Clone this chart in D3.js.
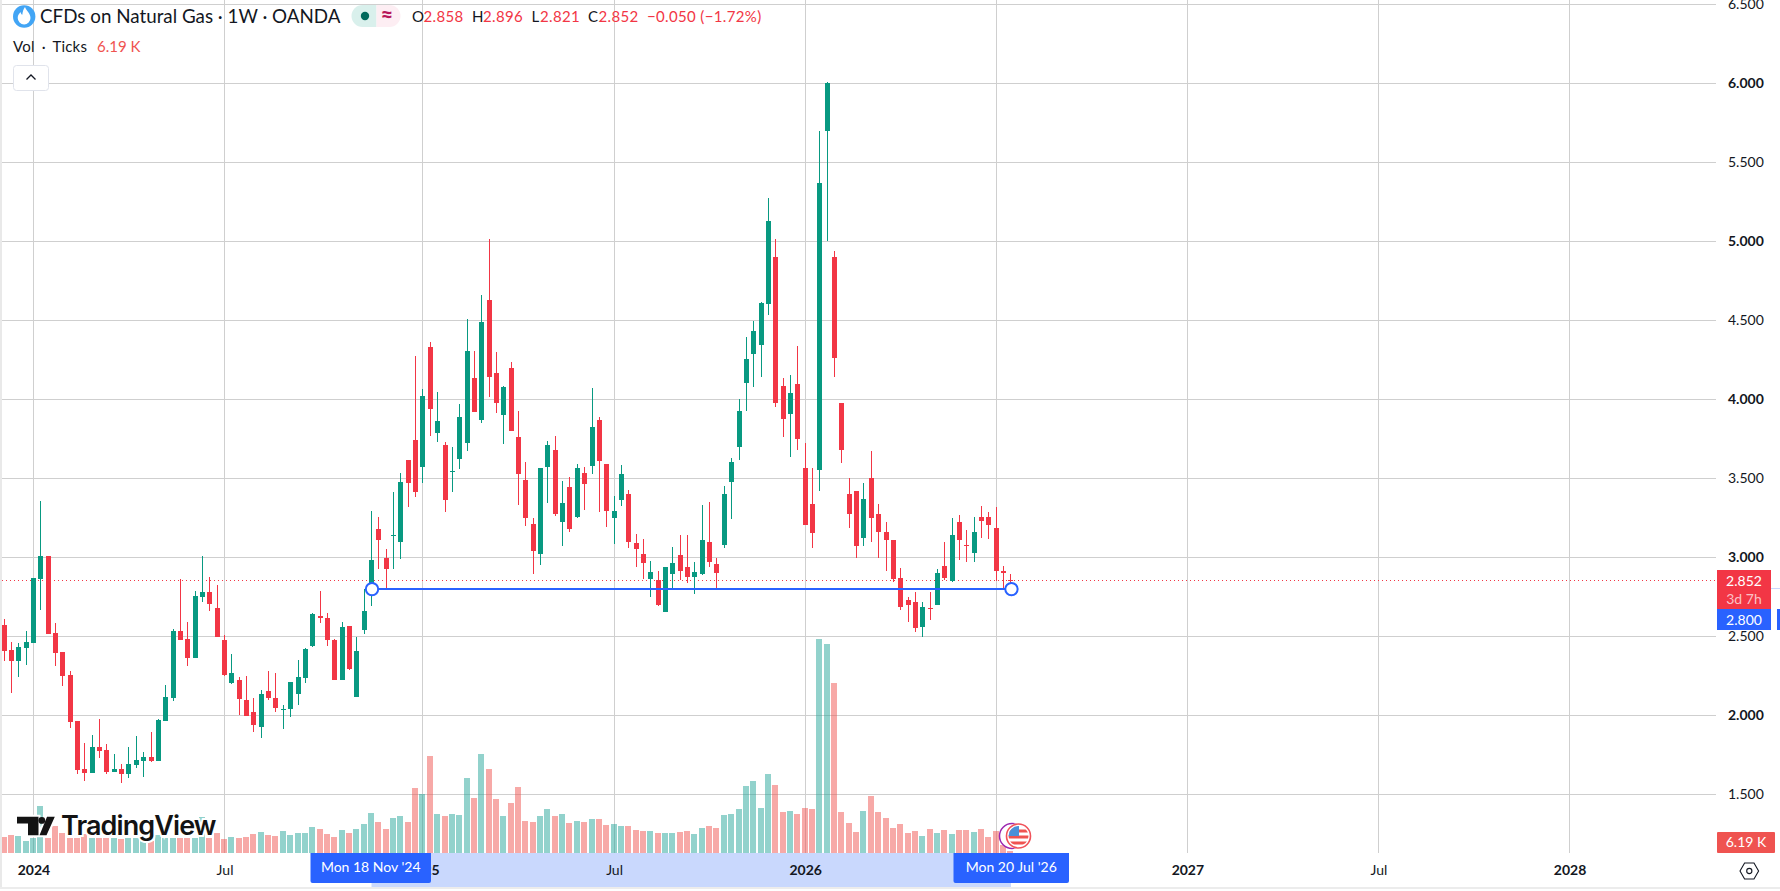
<!DOCTYPE html>
<html>
<head>
<meta charset="utf-8">
<title>CFDs on Natural Gas</title>
<script src="https://cdn.jsdelivr.net/npm/d3@7"></script>
<style>
html, body { margin: 0; padding: 0; background: #fff; }
svg { display: block; font-family: "Lato", "Open Sans", sans-serif; }
.axis .domain, .axis line { display: none; }
.axis text { fill: #131722; font-size: 14px; font-family: "Lato", sans-serif; }
</style>
</head>
<body>
<div id="chart"></div>
<script>
// weekly bars, first one is Mon 4 Dec 2023, last one Mon 20 Jul 2026
const opens = [2.572,2.413,2.346,2.428,2.460,2.865,3.008,2.521,2.401,2.255,1.964,1.660,1.635,1.800,1.781,1.641,1.660,1.629,1.686,1.711,1.736,1.711,1.964,2.110,2.534,2.483,2.363,2.749,2.781,2.679,2.477,2.205,2.224,2.097,2.021,1.926,2.154,2.110,2.034,2.040,2.135,2.236,2.439,2.629,2.616,2.477,2.224,2.565,2.116,2.540,2.835,3.179,2.996,3.137,3.097,3.616,3.743,3.572,4.331,3.787,3.711,3.540,3.622,3.724,4.135,3.869,4.629,4.167,3.901,4.198,3.762,3.489,3.211,3.021,3.572,3.679,3.224,3.445,3.255,3.534,3.578,3.869,3.591,3.249,3.363,3.401,3.091,3.021,2.863,2.857,2.654,2.895,3.015,2.939,2.876,2.895,3.097,2.958,3.078,3.477,3.698,4.102,4.291,4.342,4.602,4.900,4.083,3.911,4.095,3.569,3.341,3.552,5.697,4.900,3.976,3.399,3.424,3.125,3.506,3.273,3.164,3.113,2.873,2.733,2.721,2.563,2.682,2.697,2.949,2.852,3.222,3.077,3.026,3.254,3.254,3.184,2.917,2.858];
const highs = [2.610,2.464,2.458,2.534,2.869,3.357,3.008,2.584,2.401,2.281,1.964,1.825,1.876,1.977,1.819,1.755,1.692,1.800,1.869,1.768,1.895,1.977,2.192,2.546,2.863,2.591,2.787,3.008,2.876,2.825,2.508,2.388,2.243,2.249,2.110,2.160,2.281,2.268,2.065,2.211,2.350,2.426,2.648,2.787,2.648,2.483,2.591,2.565,2.496,2.800,3.293,3.255,3.053,3.414,3.534,3.616,4.274,4.065,4.363,4.046,3.730,3.698,3.970,4.508,4.306,4.660,5.015,4.300,4.084,4.236,3.926,3.603,3.249,3.565,3.736,3.768,3.483,3.508,3.591,3.572,4.072,3.888,3.591,3.388,3.584,3.426,3.148,3.116,2.977,2.914,2.939,3.065,3.141,3.141,2.970,3.331,3.350,2.996,3.451,3.629,4.002,4.393,4.495,4.616,5.273,5.014,4.134,4.158,4.337,3.722,3.564,5.697,6.010,4.938,3.976,3.501,3.424,3.470,3.671,3.336,3.227,3.113,2.936,2.752,2.779,2.716,2.784,2.929,3.101,3.247,3.266,3.171,3.254,3.329,3.285,3.321,2.948,2.896];
const lows = [2.346,2.143,2.245,2.321,2.460,2.669,2.515,2.312,2.186,1.920,1.629,1.584,1.635,1.730,1.629,1.641,1.572,1.603,1.667,1.610,1.705,1.711,1.964,2.091,2.477,2.312,2.363,2.717,2.660,2.496,2.249,2.198,2.002,1.996,1.895,1.857,2.097,2.021,1.914,1.989,2.065,2.205,2.432,2.584,2.439,2.224,2.224,2.287,2.116,2.515,2.692,2.926,2.804,2.926,2.989,3.319,3.382,3.470,3.768,3.730,3.287,3.414,3.559,3.673,3.920,3.850,4.015,3.913,3.717,3.800,3.331,3.198,2.895,2.951,3.344,3.262,3.072,3.160,3.249,3.300,3.527,3.287,3.192,3.084,3.325,3.059,2.939,2.863,2.749,2.692,2.654,2.806,2.857,2.838,2.768,2.888,2.939,2.804,3.059,3.243,3.616,3.930,4.076,4.141,4.534,3.950,3.760,3.634,3.683,3.208,3.058,3.424,5.001,4.141,3.601,3.184,3.000,3.070,3.101,3.000,2.912,2.844,2.665,2.590,2.527,2.495,2.602,2.697,2.856,2.844,2.987,2.970,2.970,3.125,3.120,2.851,2.807,2.821];
const closes = [2.409,2.346,2.432,2.464,2.869,3.008,2.515,2.395,2.249,1.958,1.654,1.635,1.800,1.774,1.641,1.660,1.629,1.692,1.717,1.736,1.711,1.970,2.116,2.534,2.477,2.363,2.755,2.781,2.705,2.496,2.255,2.268,2.103,1.996,1.939,2.135,2.110,2.046,2.040,2.211,2.243,2.420,2.641,2.616,2.477,2.224,2.559,2.293,2.407,2.660,2.983,3.110,2.926,3.143,3.477,3.470,3.414,4.021,3.939,3.863,3.363,3.546,3.888,4.306,3.920,4.489,4.141,3.977,4.078,3.800,3.527,3.249,3.040,3.565,3.711,3.274,3.344,3.179,3.565,3.464,3.825,3.610,3.293,3.293,3.527,3.097,3.053,2.964,2.907,2.698,2.939,2.964,2.914,2.876,2.907,3.110,2.970,2.901,3.401,3.603,3.926,4.255,4.432,4.609,5.127,3.976,3.879,4.039,3.753,3.208,3.152,5.370,6.002,4.260,3.683,3.278,3.070,3.368,3.247,3.164,3.109,2.861,2.689,2.697,2.556,2.684,2.677,2.905,2.873,3.140,3.113,3.072,3.164,3.234,3.203,2.917,2.902,2.852];
// tick volume in thousands
const volumes = [50,56,53,37,47,146,47,84,62,47,47,59,47,47,47,47,43,47,47,56,37,56,47,47,47,47,47,112,47,62,43,50,47,50,59,65,56,53,68,56,62,62,81,74,59,50,71,62,74,90,124,96,74,109,115,96,202,183,301,121,115,121,118,233,171,307,260,167,115,155,205,99,96,115,136,115,121,93,99,96,105,105,87,90,84,84,71,68,68,62,62,62,65,68,59,78,84,78,118,121,136,208,223,140,245,211,127,130,121,140,136,663,648,527,127,93,65,130,177,127,109,78,90,62,68,53,74,62,71,59,71,71,65,74,50,68,25,6.19];

const priceTicks = [1.5,2,2.5,3,3.5,4,4.5,5,5.5,6,6.5];
const timeTicks = ["2024-01-01","2024-07-01","2025-01-06","2025-07-07","2026-01-05","2026-07-06","2027-01-04","2027-07-05","2028-01-03"].map(d => new Date(d + "T00:00:00Z"));
const timeLabels = ["2024","Jul","2025","Jul","2026","Jul","2027","Jul","2028"];
const weeks = d3.utcMonday.range(new Date("2023-12-04T00:00:00Z"), new Date("2026-07-21T00:00:00Z"));

const rangeStart = new Date("2024-11-18T00:00:00Z");
const rangeEnd = new Date("2026-07-20T00:00:00Z");
const rangeLevel = 2.8;
const lastPrice = 2.852;

const width = 1780, height = 891;
const paneRight = 1716, paneBottom = 853;
const green = "#089981", red = "#f23645", blue = "#2962ff";

const x = d3.scaleUtc()
  .domain([weeks[0], timeTicks[8]])
  .range([4.01, 1569.56]);
const y = d3.scaleLinear().domain([1.5, 6.5]).range([794.5, 4.5]);
const yVol = d3.scaleLinear().domain([0, 620]).range([paneBottom, 653]);

const svg = d3.select("#chart").append("svg").attr("width", width).attr("height", height);

// frame
svg.append("rect").attr("width", 2).attr("height", 888).attr("fill", "#e9e9e9");
svg.append("rect").attr("y", 887).attr("width", width).attr("height", 2).attr("fill", "#ececec");

// grid
const grid = svg.append("g").attr("stroke", "#cfcfcf").attr("shape-rendering", "crispEdges");
grid.selectAll(".h").data(priceTicks).enter().append("line")
  .attr("x1", 2).attr("x2", paneRight)
  .attr("y1", d => Math.floor(y(d)) + 0.5).attr("y2", d => Math.floor(y(d)) + 0.5);
grid.selectAll(".v").data(timeTicks).enter().append("line")
  .attr("y1", 0).attr("y2", paneBottom)
  .attr("x1", d => Math.floor(x(d)) + 0.5).attr("x2", d => Math.floor(x(d)) + 0.5);

// volume
svg.append("g").attr("shape-rendering", "crispEdges").selectAll("rect").data(weeks).enter().append("rect")
  .attr("x", d => Math.max(2, Math.floor(x(d)) - 3))
  .attr("width", (d, i) => i == 0 ? 5 : 6)
  .attr("y", (d, i) => yVol(volumes[i]))
  .attr("height", (d, i) => paneBottom - yVol(volumes[i]))
  .attr("fill", (d, i) => closes[i] >= opens[i] ? "#26a69a" : "#ef5350")
  .attr("opacity", 0.5);

// last price line
svg.append("line")
  .attr("x1", 2).attr("x2", paneRight)
  .attr("y1", Math.floor(y(lastPrice)) + 0.5).attr("y2", Math.floor(y(lastPrice)) + 0.5)
  .attr("stroke", red).attr("stroke-dasharray", "1 3").attr("shape-rendering", "crispEdges");

// candles
const candles = svg.append("g").attr("shape-rendering", "crispEdges");
candles.selectAll(".wick").data(weeks).enter().append("rect")
  .attr("x", d => Math.floor(x(d)))
  .attr("width", 1)
  .attr("y", (d, i) => y(highs[i]))
  .attr("height", (d, i) => y(lows[i]) - y(highs[i]))
  .attr("fill", (d, i) => closes[i] >= opens[i] ? green : red);
candles.selectAll(".body").data(weeks).enter().append("rect")
  .attr("x", d => Math.max(2, Math.floor(x(d)) - 2))
  .attr("width", 5)
  .attr("y", (d, i) => y(Math.max(opens[i], closes[i])))
  .attr("height", (d, i) => Math.max(1, Math.abs(y(opens[i]) - y(closes[i]))))
  .attr("fill", (d, i) => closes[i] >= opens[i] ? green : red);

// date range drawing
svg.append("line")
  .attr("x1", x(rangeStart)).attr("x2", x(rangeEnd))
  .attr("y1", y(rangeLevel)).attr("y2", y(rangeLevel))
  .attr("stroke", blue).attr("stroke-width", 2);
svg.selectAll(".handle").data([rangeStart, rangeEnd]).enter().append("circle")
  .attr("cx", d => x(d) + 0.5).attr("cy", y(rangeLevel)).attr("r", 6.2)
  .attr("fill", "#fff").attr("stroke", blue).attr("stroke-width", 2);

// flag badge at the end of the bars
const badge = svg.append("g");
svg.append("clipPath").attr("id", "flagClip").append("circle").attr("cx", 1018.5).attr("cy", 836).attr("r", 10);
badge.append("circle").attr("cx", 1012).attr("cy", 836).attr("r", 12.5).attr("fill", "#fff").attr("stroke", "#9c27b0").attr("stroke-width", 1.5);
badge.append("circle").attr("cx", 1018.5).attr("cy", 836).attr("r", 13).attr("fill", "#fff");
badge.append("circle").attr("cx", 1018.5).attr("cy", 836).attr("r", 12).attr("fill", "#fff").attr("stroke", "#f0525a").attr("stroke-width", 1.6);
const flag = badge.append("g").attr("clip-path", "url(#flagClip)");
d3.range(0, 3).forEach(k => flag.append("rect").attr("x", 1008).attr("y", 829.5 + k * 6).attr("width", 22).attr("height", 3).attr("fill", "#ef5350"));
flag.append("rect").attr("x", 1008).attr("y", 826).attr("width", 11).attr("height", 10).attr("fill", "#4a90d9");

// watermark
const logo = svg.append("g");
const logoMark = "M17 816.7H38.5V835.2H28V823.5H17Z M39.5 835.2L47 816.7H54.8L46.5 835.2Z";
logo.append("path").attr("d", logoMark).attr("fill", "#fff").attr("stroke", "#fff").attr("stroke-width", 4);
logo.append("path").attr("d", logoMark).attr("fill", "#131313");
logo.append("circle").attr("cx", 41.8).attr("cy", 820.4).attr("r", 3.4).attr("fill", "#131313");
logo.append("text").attr("x", 61).attr("y", 835)
  .attr("font-family", "Inter, sans-serif").attr("font-weight", 600).attr("font-size", 27)
  .attr("letter-spacing", -0.9)
  .attr("fill", "#131313").attr("stroke", "#fff").attr("stroke-width", 4).attr("paint-order", "stroke")
  .text("TradingView");

// time axis
svg.append("rect").attr("x", x(rangeStart)).attr("y", paneBottom)
  .attr("width", x(rangeEnd) - x(rangeStart)).attr("height", 34).attr("fill", "#c9d8fd");
const xAxis = d3.axisBottom(x).tickValues(timeTicks).tickSize(0).tickPadding(12)
  .tickFormat((d, i) => timeLabels[i]);
svg.append("g").attr("class", "axis").attr("transform", `translate(0,${paneBottom})`).call(xAxis)
  .selectAll("text").attr("font-weight", (d, i) => timeLabels[i] == "Jul" ? 400 : 700);

const dateTag = d3.utcFormat("%a %d %b '%y");
[[rangeStart, 310.5, 120.5], [rangeEnd, 953.5, 115.5]].forEach(([d, left, w]) => {
  svg.append("path")
    .attr("d", `M${left} ${paneBottom}h${w}v28a2 2 0 0 1 -2 2h${-w + 4}a2 2 0 0 1 -2 -2z`)
    .attr("fill", blue);
  svg.append("text").attr("x", left + w / 2).attr("y", 871.5).attr("text-anchor", "middle")
    .attr("font-size", 14).attr("fill", "#fff").text(dateTag(d));
});

// price axis
const yAxis = d3.axisRight(y).tickValues(priceTicks).tickSize(0).tickPadding(12).tickFormat(d3.format(".3f"));
svg.append("g").attr("class", "axis").attr("transform", `translate(${paneRight},0)`).call(yAxis)
  .selectAll("text").attr("font-weight", d => Number.isInteger(d) ? 700 : 400);

// price labels
svg.append("path").attr("d", "M1717 570h54v39h-54z").attr("fill", red);
svg.append("text").attr("x", 1744).attr("y", y(lastPrice) + 5).attr("text-anchor", "middle")
  .attr("font-size", 14).attr("fill", "#fff").text(d3.format(".3f")(lastPrice));
svg.append("text").attr("x", 1744).attr("y", 604).attr("text-anchor", "middle")
  .attr("font-size", 14).attr("fill", "#fff").attr("fill-opacity", 0.7).text("3d 7h");
svg.append("path").attr("d", "M1717 609h54v21h-54z").attr("fill", blue);
svg.append("text").attr("x", 1744).attr("y", 624.7).attr("text-anchor", "middle")
  .attr("font-size", 14).attr("fill", "#fff").text(d3.format(".3f")(rangeLevel));
svg.append("rect").attr("x", 1777).attr("y", 609).attr("width", 3).attr("height", 21).attr("fill", blue);
svg.append("rect").attr("x", 1771).attr("y", 588).attr("width", 9).attr("height", 1).attr("fill", "#c9d8fd");
svg.append("rect").attr("x", 1717).attr("y", 832).attr("width", 58).attr("height", 21).attr("rx", 1).attr("fill", "#ef5350");
svg.append("text").attr("x", 1746).attr("y", 847).attr("text-anchor", "middle")
  .attr("font-size", 14).attr("fill", "#fff").text("6.19 K");

// settings icon
svg.append("path").attr("d", "M1740 871l4.6-8h9.4l4.6 8l-4.6 8h-9.4z").attr("fill", "none").attr("stroke", "#131722").attr("stroke-width", 1.1);
svg.append("circle").attr("cx", 1749.3).attr("cy", 871).attr("r", 2.6).attr("fill", "none").attr("stroke", "#131722").attr("stroke-width", 1.1);

// header
const head = svg.append("g");
head.append("circle").attr("cx", 24.2).attr("cy", 16.5).attr("r", 11.2).attr("fill", "#42a5f5");
head.append("path").attr("d", "M25 7c1 3.5 5.5 6 5.5 11a6.4 6.4 0 0 1 -12.8 0c0 -3 1.6 -4.5 2.8 -6c.3 1.6 1 2.4 1.8 2.8c.4 -3 1 -5.6 2.7 -7.8z").attr("fill", "#fff");
head.append("text").attr("x", 40).attr("y", 23).attr("font-size", 18.8).attr("fill", "#131722").text("CFDs on Natural Gas · 1W · OANDA");

head.append("path").attr("d", "M376.5 5h-14a11 11 0 0 0 0 22h14z").attr("fill", "#d9f0ec");
head.append("path").attr("d", "M376.5 5h13a11 11 0 0 1 0 22h-13z").attr("fill", "#fdeef3");
head.append("circle").attr("cx", 365).attr("cy", 16).attr("r", 4.2).attr("fill", "#00695c");
head.append("text").attr("x", 387).attr("y", 22.5).attr("text-anchor", "middle").attr("font-size", 22).attr("font-weight", 700).attr("fill", "#b7195c").text("≈");

const ohlcNames = ["O", "H", "L", "C"];
const ohlcLast = [opens[137], highs[137], lows[137], closes[137]];
const ohlcX = [412, 472, 531.5, 588];
const ohlcValX = [423.5, 483, 540, 598.5];
ohlcNames.forEach((n, k) => {
  head.append("text").attr("x", ohlcX[k]).attr("y", 21.5).attr("font-size", 15).attr("fill", "#131722").text(n);
  head.append("text").attr("x", ohlcValX[k]).attr("y", 21.5).attr("font-size", 15).attr("letter-spacing", 0.35).attr("fill", red).text(d3.format(".3f")(ohlcLast[k]));
});
head.append("text").attr("x", 647).attr("y", 21.5).attr("font-size", 15).attr("letter-spacing", 0.35).attr("fill", red).text("−0.050 (−1.72%)");

head.append("text").attr("x", 13).attr("y", 52).attr("font-size", 15).attr("word-spacing", 3).attr("letter-spacing", 0.2).attr("fill", "#131722").text("Vol · Ticks");
head.append("text").attr("x", 97).attr("y", 52).attr("font-size", 15).attr("fill", "#ef5350").text("6.19 K");

head.append("rect").attr("x", 13.5).attr("y", 65.5).attr("width", 35).attr("height", 25).attr("rx", 3).attr("fill", "#fff").attr("stroke", "#e0e3eb");
head.append("path").attr("d", "M26.5 79.5l4.5 -4.5l4.5 4.5").attr("fill", "none").attr("stroke", "#131722").attr("stroke-width", 1.3);
</script>
</body>
</html>
